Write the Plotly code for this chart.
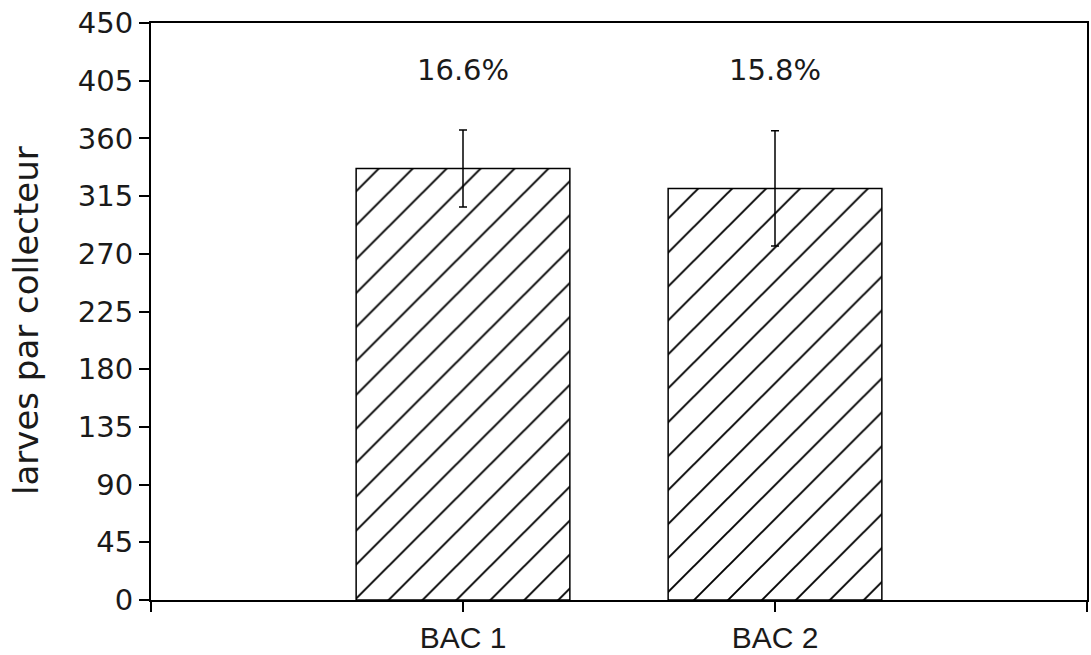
import plotly.graph_objects as go

categories = ["BAC 1", "BAC 2"]
positions = [0, 1]
values = [336.5, 321]
errors = [30, 45]
pct_labels = ["16.6%", "15.8%"]
label_y = [413, 413]
y_ticks = [0, 45, 90, 135, 180, 225, 270, 315, 360, 405, 450]

round_font = "DejaVu Sans, Verdana, sans-serif"
helv_font = "Liberation Sans, Arial, sans-serif"

L, R, T, B = 151, 4, 23, 55
W, H = 1091, 655
plot_w = W - L - R
plot_h = H - T - B

fig = go.Figure()
fig.add_trace(go.Bar(
    x=positions, y=values, width=0.685,
    marker=dict(color="white", line=dict(color="black", width=1.5),
                pattern=dict(shape="/", fgcolor="black", bgcolor="white", fgopacity=1,
                             fillmode="replace", size=24, solidity=0.08)),
    error_y=dict(type="data", array=errors, visible=True, color="black", thickness=1.5, width=4),
    showlegend=False,
))

for xp, yp, t in zip(positions, label_y, pct_labels):
    fig.add_annotation(x=xp, y=yp, text=t, showarrow=False,
                       font=dict(size=29, color="#1a1a1a", family=round_font))

fig.add_annotation(
    xref="paper", yref="paper", x=(26 - L) / plot_w, y=(H - B - 321) / plot_h,
    text="larves par collecteur", textangle=-90, showarrow=False,
    xanchor="center", yanchor="middle",
    font=dict(size=34, color="#1a1a1a", family=round_font),
)

fig.update_layout(
    width=W, height=H,
    margin=dict(l=L, r=R, t=T, b=B, autoexpand=False),
    paper_bgcolor="white", plot_bgcolor="white",
    font=dict(family=helv_font, color="#1a1a1a"),
)
fig.update_xaxes(
    range=[-1, 2], tickvals=[-1, 0, 1, 2], ticktext=["", categories[0], categories[1], ""],
    ticks="outside", ticklen=10, tickwidth=1.5, tickcolor="black",
    showline=True, linecolor="black", linewidth=2, mirror=True,
    showgrid=False, zeroline=False, automargin=False,
    tickfont=dict(size=30, color="#1a1a1a", family=helv_font),
)
fig.update_yaxes(
    range=[0, 450], tickvals=y_ticks,
    ticks="outside", ticklen=10, tickwidth=1.5, tickcolor="black",
    showline=True, linecolor="black", linewidth=2, mirror=True,
    showgrid=False, zeroline=False, automargin=False,
    tickfont=dict(size=29, color="#1a1a1a", family=round_font),
)

fig.write_html("out.html", config={"displayModeBar": False},
               post_script="document.body.style.margin='0px';document.body.style.overflow='hidden';")
